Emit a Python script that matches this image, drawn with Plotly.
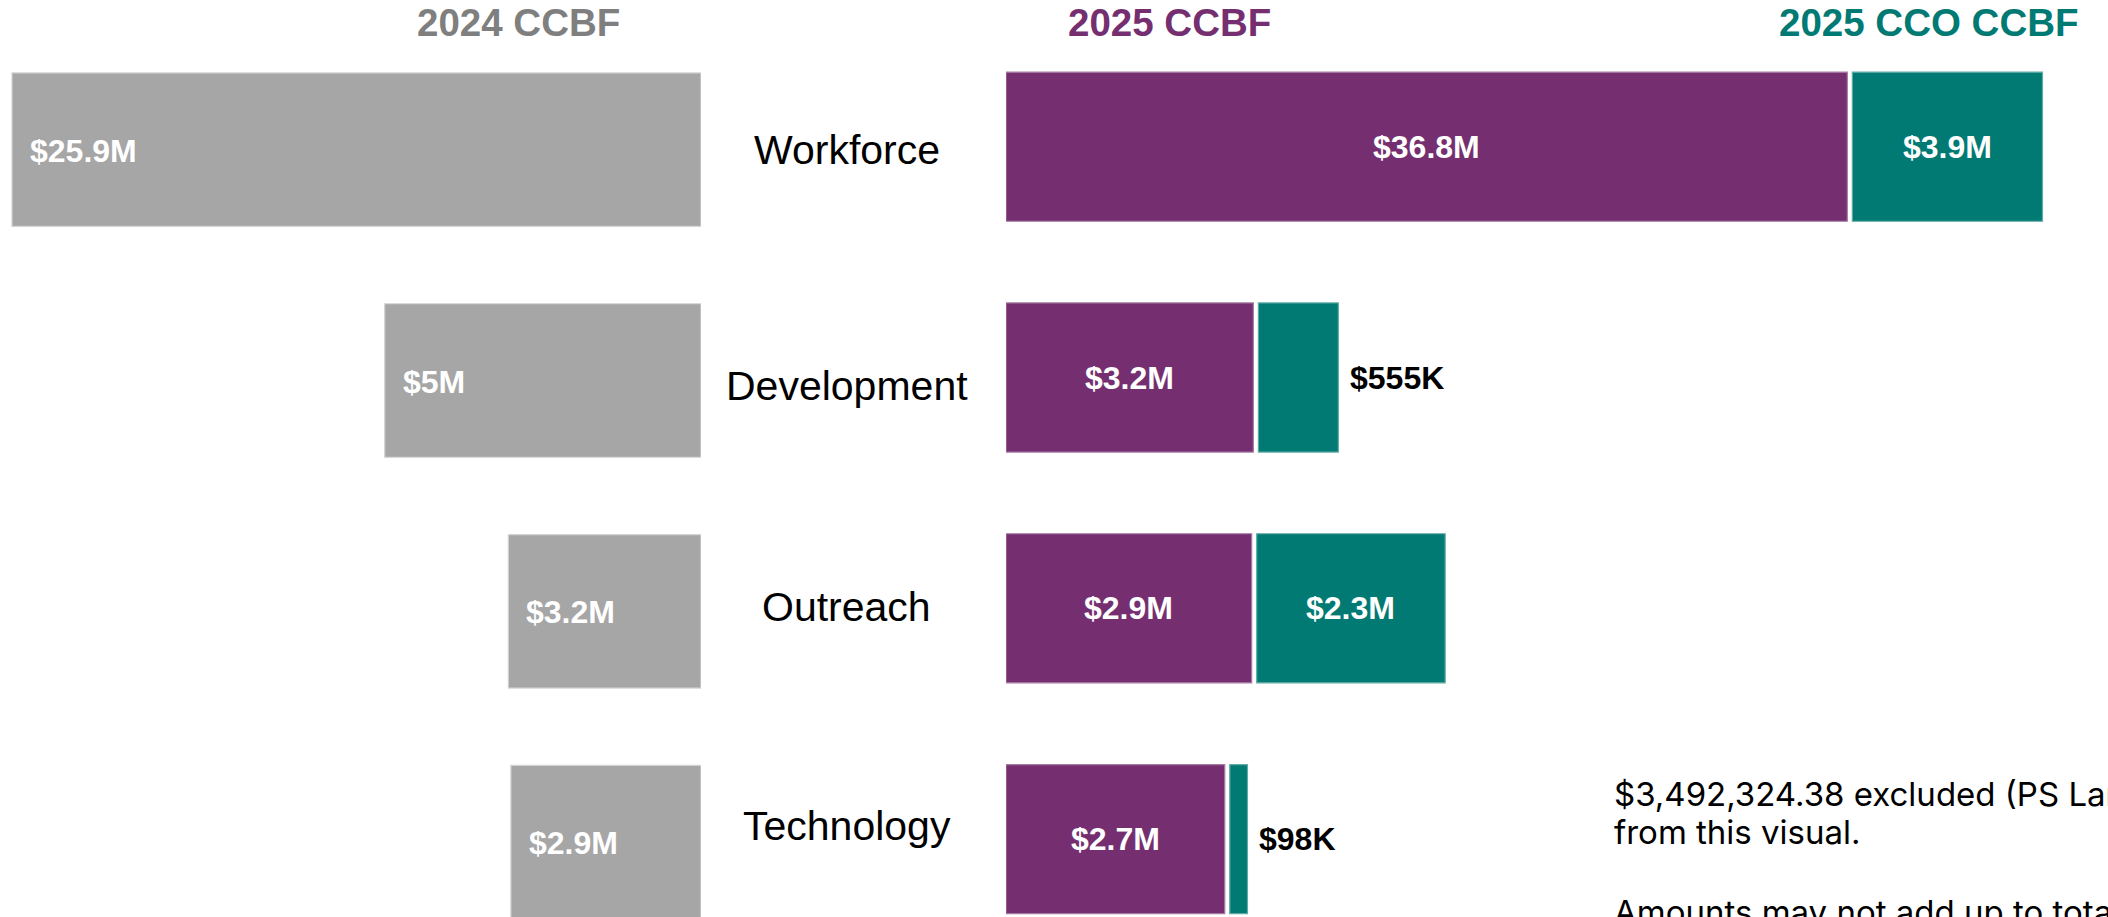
import plotly.graph_objects as go

# ---------------- data ----------------
categories = ["Workforce", "Development", "Outreach", "Technology"]

# dollar amounts shown on the bars
ccbf_2024 = [25.9e6, 5.0e6, 3.2e6, 2.9e6]
ccbf_2025 = [36.8e6, 3.2e6, 2.9e6, 2.7e6]
cco_ccbf_2025 = [3.9e6, 555e3, 2.3e6, 98e3]

# The infographic does not draw its bars to scale; these are the drawn bar
# lengths (relative units, 2025 CCBF Workforce = 100).
len_2024 = [81.9, 37.6, 22.9, 22.6]
len_2025 = [100.0, 29.4, 29.2, 26.0]
len_cco_2025 = [22.6, 9.5, 22.4, 2.1]

series_titles = ["2024 CCBF", "2025 CCBF", "2025 CCO CCBF"]
note_lines = [
    "$3,492,324.38 excluded (PS Language Access)",
    "from this visual.",
    "Amounts may not add up to totals due to rounding.",
]

# ---------------- style ----------------
W, H = 2108, 917
GRAY, PURPLE, TEAL = "#A6A6A6", "#752F70", "#007A73"
TITLE_COLORS = ["#7F7F7F", PURPLE, TEAL]
FONT = "Liberation Sans, Arial, sans-serif"
NOTE_FONT = "Inter, Liberation Sans, sans-serif"
GAP = 0.6                # white gap between 2025 stacked pieces (relative units)
cco_label_pos = ["inside", "outside", "inside", "outside"]
cat_label_yshift = [0, -5, 4, 16]   # hand placement of the category names


def fmt(v):
    if v >= 1e6:
        s = f"{v / 1e6:.1f}".rstrip("0").rstrip(".")
        return f"${s}M"
    return f"${v / 1e3:.0f}K"


cco_base = [p + GAP for p in len_2025]

fig = go.Figure()
fig.add_trace(go.Bar(
    y=categories, x=len_2024, orientation="h", xaxis="x", yaxis="y",
    marker=dict(color=GRAY, line=dict(color="#D4D4D4", width=1.2)),
    width=0.665, hoverinfo="skip", showlegend=False,
))
fig.add_trace(go.Bar(
    y=categories, x=len_2025, orientation="h", xaxis="x2", yaxis="y",
    marker=dict(color=PURPLE, line=dict(color="#A57AA1", width=1.2)),
    width=0.646, offset=-0.336, hoverinfo="skip", showlegend=False,
))
fig.add_trace(go.Bar(
    y=categories, x=len_cco_2025, base=cco_base, orientation="h",
    xaxis="x2", yaxis="y",
    marker=dict(color=TEAL, line=dict(color="#5FAAA5", width=1.2)),
    width=0.646, offset=-0.336, hoverinfo="skip", showlegend=False,
))

ann = []
val_font = dict(family=FONT, size=32, color="white")
for i, c in enumerate(categories):
    # 2024 label at the tip (left end) of the gray bar
    ann.append(dict(x=len_2024[i], y=c, xref="x", yref="y", xanchor="left",
                    yanchor="middle", xshift=16, yshift=-1,
                    text=f"<b>{fmt(ccbf_2024[i])}</b>", showarrow=False,
                    font=val_font))
    # 2025 CCBF label centred
    ann.append(dict(x=len_2025[i] / 2, y=c, xref="x2", yref="y",
                    xanchor="center", yanchor="middle", yshift=3,
                    text=f"<b>{fmt(ccbf_2025[i])}</b>", showarrow=False,
                    font=val_font))
    # 2025 CCO label
    if cco_label_pos[i] == "inside":
        ann.append(dict(x=cco_base[i] + len_cco_2025[i] / 2, y=c, xref="x2",
                        yref="y", xanchor="center", yanchor="middle", yshift=3,
                        text=f"<b>{fmt(cco_ccbf_2025[i])}</b>", showarrow=False,
                        font=val_font))
    else:
        ann.append(dict(x=cco_base[i] + len_cco_2025[i], y=c, xref="x2",
                        yref="y", xanchor="left", yanchor="middle", xshift=10,
                        yshift=3, text=f"<b>{fmt(cco_ccbf_2025[i])}</b>",
                        showarrow=False,
                        font=dict(family=FONT, size=32, color="black")))
    # category name between the two panels
    ann.append(dict(x=0.4016, y=c, xref="paper", yref="y", xanchor="center",
                    yanchor="middle", yshift=cat_label_yshift[i], text=c,
                    showarrow=False,
                    font=dict(family=FONT, size=41, color="black")))

# column titles
for t, col, xp in zip(series_titles, TITLE_COLORS, [0.2462, 0.5546, 0.9151]):
    ann.append(dict(x=xp, y=0.976, xref="paper", yref="paper", xanchor="center",
                    yanchor="middle", text=f"<b>{t}</b>", showarrow=False,
                    font=dict(family=FONT, size=38.5, color=col)))

# footnote lines
for line, yp in zip(note_lines, [0.1341, 0.0931, 0.0057]):
    ann.append(dict(x=0.7646, y=yp, xref="paper", yref="paper", xanchor="left",
                    yanchor="middle", text=line, showarrow=False,
                    font=dict(family=NOTE_FONT, size=33, color="black")))

axis_off = dict(showgrid=False, zeroline=False, showline=False,
                showticklabels=False, ticks="", fixedrange=True)
fig.update_layout(
    width=W, height=H,
    margin=dict(l=0, r=0, t=0, b=0),
    paper_bgcolor="white", plot_bgcolor="white",
    barmode="overlay",
    xaxis=dict(domain=[0, 701 / W], range=[701 / 8.413, 0], **axis_off),
    xaxis2=dict(domain=[1006 / W, 1], range=[0, (W - 1006) / 8.413],
                anchor="y", **axis_off),
    yaxis=dict(type="category", range=[3.3245, -0.6486], **axis_off),
    annotations=ann,
    showlegend=False,
)

fig.write_html("out.html", config={"displayModeBar": False},
               post_script="document.body.style.margin='0';document.body.style.overflow='hidden';")
